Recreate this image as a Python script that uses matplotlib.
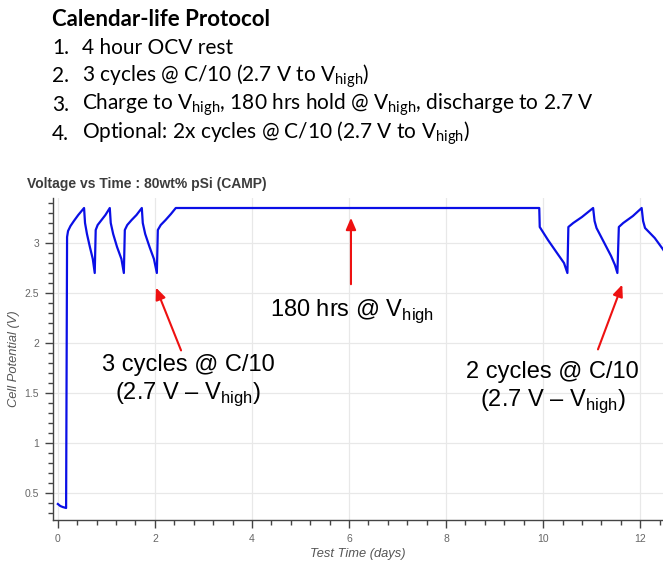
import matplotlib
matplotlib.use("Agg")
import matplotlib.pyplot as plt
from matplotlib.ticker import MultipleLocator, FuncFormatter

plt.rcParams['mathtext.fontset'] = 'custom'
plt.rcParams['mathtext.rm'] = 'Lato'
plt.rcParams['mathtext.sf'] = 'Liberation Sans'

# cell voltage trace (days, volts)
time_days = [0.0, 0.05, 0.10, 0.17,
             0.19, 0.21, 0.26, 0.33, 0.42, 0.54,
             0.56, 0.60, 0.66, 0.72, 0.76,
             0.78, 0.82, 0.90, 0.98, 1.07,
             1.09, 1.14, 1.22, 1.31, 1.36,
             1.38, 1.43, 1.52, 1.62, 1.73,
             1.75, 1.80, 1.89, 1.98, 2.04,
             2.06, 2.12, 2.22, 2.33, 2.43,
             9.92,
             9.93, 10.10, 10.30, 10.43, 10.50,
             10.52, 10.62, 10.80, 11.03,
             11.06, 11.10, 11.25, 11.40, 11.48, 11.53,
             11.56, 11.65, 11.85, 12.03,
             12.06, 12.10, 12.30, 12.45, 12.55]
cell_v = [0.39, 0.37, 0.36, 0.35,
          3.06, 3.12, 3.17, 3.22, 3.28, 3.35,
          3.20, 3.09, 2.96, 2.84, 2.70,
          3.13, 3.18, 3.23, 3.28, 3.35,
          3.20, 3.09, 2.96, 2.84, 2.70,
          3.13, 3.18, 3.23, 3.28, 3.35,
          3.20, 3.09, 2.96, 2.84, 2.70,
          3.13, 3.18, 3.23, 3.29, 3.35,
          3.35,
          3.16, 3.03, 2.89, 2.80, 2.70,
          3.16, 3.20, 3.26, 3.35,
          3.22, 3.15, 3.01, 2.87, 2.78, 2.70,
          3.16, 3.20, 3.27, 3.35,
          3.22, 3.15, 3.05, 2.95, 2.88]

protocol_title = "Calendar-life Protocol"
protocol_steps = [
    ("1.", "4 hour OCV rest"),
    ("2.", "3 cycles @ C/10 (2.7 V to V$_{\\mathrm{high}}$)"),
    ("3.", "Charge to V$_{\\mathrm{high}}$, 180 hrs hold @ V$_{\\mathrm{high}}$, discharge to 2.7 V"),
    ("4.", "Optional: 2x cycles @ C/10 (2.7 V to V$_{\\mathrm{high}}$)"),
]

fig = plt.figure(figsize=(6.63, 5.62), dpi=100)

# protocol notes above the plot
fig.text(52 / 663, 1 - 20 / 562, protocol_title, fontsize=16, fontweight='bold',
         family='Lato', va='center', ha='left')
for i, (num, step) in enumerate(protocol_steps):
    y = 1 - (48 + 28.5 * i) / 562
    fig.text(52 / 663, y, num, fontsize=15, family='Lato', va='center', ha='left')
    fig.text(82 / 663, y, step, fontsize=15, family='Lato', va='center', ha='left')

ax = fig.add_axes([53 / 663, 1 - 520 / 562, 1 - 53 / 663, (520 - 198) / 562])
ax.plot(time_days, cell_v, color='#0a0fe6', lw=1.6, solid_joinstyle='round')

ax.set_xlim(-0.1, 12.47)
ax.set_ylim(0.23, 3.45)
ax.xaxis.set_major_locator(MultipleLocator(2))
ax.xaxis.set_minor_locator(MultipleLocator(0.4))
ax.yaxis.set_major_locator(MultipleLocator(0.5))
ax.yaxis.set_minor_locator(MultipleLocator(0.1))
ax.yaxis.set_major_formatter(FuncFormatter(lambda v, p: f"{v:g}"))

for s in ('top', 'right'):
    ax.spines[s].set_visible(False)
for s in ('left', 'bottom'):
    ax.spines[s].set_color('#444444')
    ax.spines[s].set_linewidth(1.0)

ax.tick_params(which='major', direction='out', length=6, width=1, color='#444444',
               labelcolor='#666666', labelsize=7.5, pad=4)
ax.tick_params(which='minor', direction='out', length=3.5, width=1, color='#444444')
for lab in ax.get_xticklabels() + ax.get_yticklabels():
    lab.set_family('Liberation Sans')
ax.grid(True, which='major', color='#e8e8e8', lw=0.9)
ax.set_axisbelow(True)

ax.set_title("Voltage vs Time : 80wt% pSi (CAMP)", loc='left', x=-0.043,
             fontsize=10, fontweight='bold', color='#3c3c3c',
             family='Liberation Sans', pad=7)
ax.set_ylabel("Cell Potential (V)", fontsize=9.3, style='italic', color='#555555',
              family='Liberation Sans', labelpad=3)
ax.set_xlabel("Test Time (days)", fontsize=9.3, style='italic', color='#555555',
              family='Liberation Sans', labelpad=3)

# arrows and labels for each protocol stage
arrow_kw = dict(arrowstyle='-|>,head_length=0.7,head_width=0.3', color='#ee1111', lw=1.5)
ax.annotate("", xy=(2.0, 2.58), xytext=(2.56, 1.90), arrowprops=arrow_kw)
ax.annotate("", xy=(6.04, 3.28), xytext=(6.04, 2.56), arrowprops=arrow_kw)
ax.annotate("", xy=(11.65, 2.61), xytext=(11.11, 1.91), arrowprops=arrow_kw)

lab_kw = dict(fontsize=17, family='Liberation Sans', ha='center', va='center', color='black')
ax.text(6.06, 2.32, "180 hrs @ V$_{\\mathsf{high}}$", **lab_kw)
ax.text(2.68, 1.78, "3 cycles @ C/10", **lab_kw)
ax.text(2.68, 1.49, "(2.7 V \u2013 V$_{\\mathsf{high}}$)", **lab_kw)
ax.text(10.2, 1.71, "2 cycles @ C/10", **lab_kw)
ax.text(10.2, 1.42, "(2.7 V \u2013 V$_{\\mathsf{high}}$)", **lab_kw)

fig.savefig("out.png", dpi=100)
